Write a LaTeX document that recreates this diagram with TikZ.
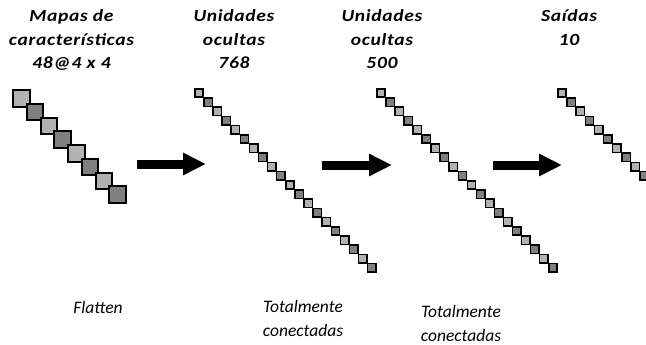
\documentclass[tikz,border=0pt]{standalone}
\usepackage{fontspec}
\setmainfont{Carlito}
\newfontfamily\toplabelfont[FakeStretch=1.15,LetterSpace=4]{Carlito}
\usetikzlibrary{arrows.meta}

\begin{document}
\begin{tikzpicture}[x=1pt,y=-1pt,
            every node/.style={inner sep=0pt, outer sep=0pt},
            bigcell/.style={draw=black, line width=2pt, minimum size=16.5pt},
            smallcell/.style={draw=black, line width=1.5pt, minimum size=8.4pt},
            tone0/.style={fill=gray!60},
            tone1/.style={fill=gray},
            toplabel/.style={font=\toplabelfont\fontsize{17}{23.5}\selectfont\bfseries\itshape,
                align=center, anchor=north},
            botlabel/.style={font=\fontsize{17.5}{23.5}\selectfont\itshape,
                align=center, anchor=north},
            bigarrow/.style={line width=9pt, -{Triangle[length=23pt,width=21pt]}}]
            \useasboundingbox (0,0) rectangle (646,345);

            % titulos
            \node[toplabel] (tmapas) at (71.5,10) {Mapas de\\caracter\'isticas\\48@4 x 4};
            \node[toplabel] (toc1) at (234,10) {Unidades\\ocultas\\768};
            \node[toplabel] (toc2) at (382,10) {Unidades\\ocultas\\500};
            \node[toplabel] (tsai) at (569,10) {Sa\'idas\\10};

            % mapas de caracteristicas
            \foreach \i [evaluate=\i as \k using {int(mod(\i,2))}] in {0,...,7}
                \node[bigcell, tone\k] (f\i) at ({21.5+13.71*\i},{98.5+13.71*\i}) {};

            % camadas ocultas e saida
            \foreach \i [evaluate=\i as \k using {int(mod(\i,2))}] in {0,...,19} {
                \node[smallcell, tone\k] (ha\i) at ({199+9.1*\i},{93+9.2*\i}) {};
                \node[smallcell, tone\k] (hb\i) at ({381+9.05*\i},{93+9.2*\i}) {};
            }
            \foreach \i [evaluate=\i as \k using {int(mod(\i,2))}] in {0,...,9}
                \node[smallcell, tone\k] (o\i) at ({562+9.15*\i},{93+9.2*\i}) {};

            % setas
            \coordinate (a1s) at (137,164);
            \coordinate (a1e) at (206,164);
            \coordinate (a2s) at (322,165);
            \coordinate (a2e) at (392,165);
            \coordinate (a3s) at (493,165);
            \coordinate (a3e) at (562,165);
            \draw[bigarrow] (a1s) -- (a1e);
            \draw[bigarrow] (a2s) -- (a2e);
            \draw[bigarrow] (a3s) -- (a3e);

            \node[botlabel] (flat) at (98,301) {Flatten};
            \node[botlabel] (tc1) at (303,300.5) {Totalmente\\conectadas};
            \node[botlabel] (tc2) at (461,305.5) {Totalmente\\conectadas};
        \end{tikzpicture}
\end{document}
